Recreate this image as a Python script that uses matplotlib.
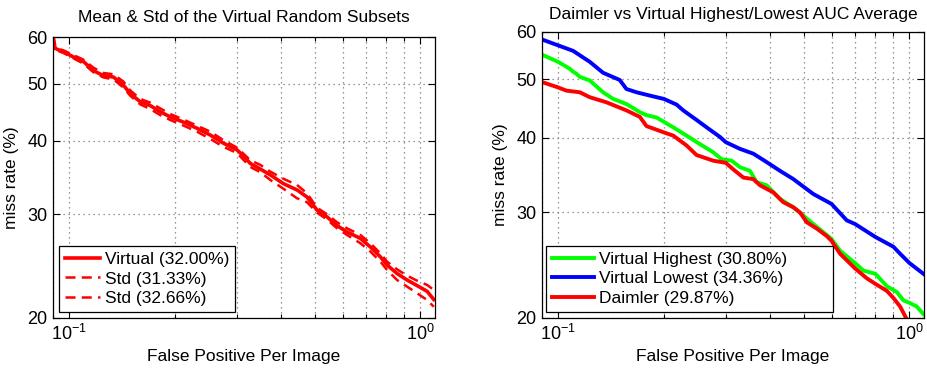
import numpy as np
import matplotlib
matplotlib.use("Agg")
import matplotlib.pyplot as plt
from matplotlib.ticker import FixedLocator, FixedFormatter, NullLocator, NullFormatter

plt.rcParams["font.family"] = ["Liberation Sans", "DejaVu Sans"]
plt.rcParams["font.size"] = 12.5

# Curva media y desviaciones de los subconjuntos aleatorios
fppi_virtual = [0.0902, 0.0912, 0.0964, 0.1029, 0.1099, 0.1173, 0.1252, 0.1338, 0.1428, 0.1492,
                0.1593, 0.1701, 0.1816, 0.1940, 0.2118, 0.2311, 0.2522, 0.2752, 0.3004, 0.3104,
                0.3279, 0.3502, 0.3738, 0.4080, 0.4453, 0.4754, 0.5077, 0.5421, 0.5788, 0.6181,
                0.6746, 0.7203, 0.7691, 0.8035, 0.8580, 0.9162, 0.9784, 1.0447, 1.091]
mr_virtual = [60.0, 57.4, 56.6, 55.5, 54.5, 52.6, 51.6, 51.3, 49.7, 48.1,
              46.6, 45.9, 44.8, 43.9, 43.0, 42.0, 40.9, 39.6, 38.6, 37.9,
              36.6, 35.8, 35.0, 33.8, 33.0, 32.1, 30.5, 29.7, 28.7, 28.0,
              27.3, 26.4, 25.4, 24.6, 23.8, 23.2, 22.7, 22.2, 21.5]
mr_std_low = [60.0, 57.1, 56.36, 55.2, 54.06, 52.27, 51.23, 50.83, 49.23, 47.71,
              46.12, 45.28, 44.23, 43.38, 42.43, 41.45, 40.28, 39.04, 38.13, 37.35,
              36.1, 35.36, 34.31, 33.13, 31.94, 31.45, 30.19, 29.39, 28.4, 27.67,
              26.79, 25.93, 24.93, 24.13, 23.2, 22.61, 22.03, 21.46, 20.9]
mr_std_high = [60.0, 57.55, 56.95, 55.92, 54.91, 53.22, 52.13, 51.86, 50.4, 48.72,
               47.1, 46.43, 45.4, 44.41, 43.44, 42.43, 41.45, 40.07, 38.94, 38.23,
               37.06, 36.39, 35.45, 34.45, 33.65, 32.57, 30.79, 30.0, 29.08, 28.4,
               27.67, 26.79, 25.75, 24.93, 24.19, 23.6, 23.14, 22.76, 22.32]

# Daimler frente a los subconjuntos virtuales con mayor/menor AUC
fppi_high = [0.09, 0.1, 0.108, 0.1104, 0.1128, 0.1153, 0.1231, 0.1343, 0.1435, 0.1565,
             0.1709, 0.1785, 0.1906, 0.2127, 0.2321, 0.2533, 0.2765, 0.292, 0.3118, 0.3293,
             0.3516, 0.3673, 0.3923, 0.4281, 0.4673, 0.5, 0.5327, 0.5689, 0.6, 0.6346,
             0.7, 0.7396, 0.8, 0.862, 0.9203, 0.9614, 1.0, 1.049, 1.096]
mr_high = [55.0, 53.5, 52.1, 51.5, 51.1, 50.5, 49.8, 47.6, 46.4, 45.5,
           44.1, 43.6, 43.2, 41.6, 40.3, 39.0, 37.8, 36.8, 36.6, 35.7,
           35.2, 33.7, 33.3, 31.6, 30.6, 29.6, 28.7, 27.8, 27.1, 25.9,
           24.7, 24.0, 23.7, 22.6, 22.1, 21.4, 21.2, 20.9, 20.3]

fppi_low = [0.09, 0.1, 0.1104, 0.1231, 0.1343, 0.1498, 0.1565, 0.1672, 0.1824, 0.2,
            0.2174, 0.2271, 0.2478, 0.2647, 0.2888, 0.3, 0.3293, 0.3594, 0.3923, 0.4281,
            0.4673, 0.5, 0.5327, 0.6, 0.6631, 0.7, 0.8, 0.9, 0.9406, 1.0, 1.096]
mr_low = [58.3, 57.0, 55.8, 53.5, 51.3, 49.9, 48.2, 47.6, 47.0, 46.4,
          45.4, 44.4, 42.8, 41.6, 40.1, 39.3, 38.3, 37.6, 36.4, 35.2,
          34.1, 33.1, 32.2, 31.0, 29.1, 28.7, 27.3, 26.3, 25.6, 24.7, 23.7]

fppi_daimler = [0.09, 0.1, 0.1056, 0.1153, 0.1231, 0.1373, 0.1565, 0.1709, 0.1785, 0.2,
                0.2127, 0.2321, 0.2478, 0.2765, 0.3, 0.3152, 0.3367, 0.3594, 0.3754, 0.4098,
                0.4375, 0.4673, 0.4881, 0.5099, 0.5445, 0.5815, 0.6, 0.6346, 0.7, 0.7558,
                0.8, 0.862, 0.9003, 0.9406, 0.9826]
mr_daimler = [49.5, 48.5, 47.9, 47.6, 46.7, 45.8, 44.4, 43.3, 41.8, 40.8,
              40.3, 38.8, 37.4, 36.6, 36.3, 35.4, 34.3, 34.1, 33.3, 32.4,
              31.2, 30.6, 30.0, 28.9, 28.2, 27.4, 26.9, 25.6, 24.2, 23.3,
              22.8, 22.2, 21.6, 20.9, 19.9]

y_ticks = [20, 30, 40, 50, 60]


def formato_ejes(ax, title, title_pad):
    ax.set_xscale("log")
    ax.set_yscale("log")
    ax.set_xlim(0.09, 1.1)
    ax.set_ylim(20, 60)
    ax.yaxis.set_major_locator(FixedLocator(y_ticks))
    ax.yaxis.set_major_formatter(FixedFormatter([str(t) for t in y_ticks]))
    ax.yaxis.set_minor_locator(NullLocator())
    ax.xaxis.set_major_locator(FixedLocator([0.1, 1.0]))
    ax.xaxis.set_minor_formatter(NullFormatter())
    ax.tick_params(which="both", direction="in", top=True, right=True, width=0.8)
    ax.tick_params(which="major", length=5, labelsize=13, pad=4)
    ax.tick_params(which="minor", length=3)
    ax.grid(True, which="both", axis="x", linestyle=(0, (1, 3)), color="#777777", linewidth=0.9)
    ax.grid(True, which="major", axis="y", linestyle=(0, (1, 3)), color="#777777", linewidth=0.9)
    for s in ax.spines.values():
        s.set_linewidth(0.9)
    ax.set_xlabel("False Positive Per Image", labelpad=4)
    ax.set_ylabel("miss rate (%)", labelpad=6)
    ax.set_title(title, fontsize=12.5, pad=title_pad)


def leyenda(ax, caja, largo):
    leg = ax.legend(loc="lower left", bbox_to_anchor=caja, mode="expand",
                    fancybox=False, edgecolor="black", framealpha=1, borderaxespad=0,
                    handlelength=largo, handletextpad=0.3, labelspacing=0.25, borderpad=0.35)
    leg.get_frame().set_linewidth(0.9)


fig = plt.figure(figsize=(9.28, 3.68), dpi=100)
ax1 = fig.add_axes([53 / 928, 50 / 368, 382 / 928, 281 / 368])
ax2 = fig.add_axes([542 / 928, 50 / 368, 382 / 928, 286 / 368])

# Grafica izquierda
ax1.plot(fppi_virtual, mr_virtual, color="red", linewidth=2.6, label="Virtual (32.00%)")
ax1.plot(fppi_virtual, mr_std_low, color="red", linewidth=1.8, linestyle=(0, (4, 2.5)),
         label="Std (31.33%)")
ax1.plot(fppi_virtual, mr_std_high, color="red", linewidth=1.8, linestyle=(0, (4, 2.5)),
         label="Std (32.66%)")
formato_ejes(ax1, "Mean & Std of the Virtual Random Subsets", 11)
leyenda(ax1, (0.016, 0.021, 0.461, 0.238), 2.0)

# Grafica derecha
ax2.plot(fppi_high, mr_high, color="#00ff00", linewidth=2.8, label="Virtual Highest (30.80%)")
ax2.plot(fppi_low, mr_low, color="blue", linewidth=2.8, label="Virtual Lowest (34.36%)")
ax2.plot(fppi_daimler, mr_daimler, color="red", linewidth=2.8, label="Daimler (29.87%)")
formato_ejes(ax2, "Daimler vs Virtual Highest/Lowest AUC Average", 9)
leyenda(ax2, (0.0105, 0.021, 0.751, 0.252), 2.4)

plt.savefig("out.png", dpi=100)
